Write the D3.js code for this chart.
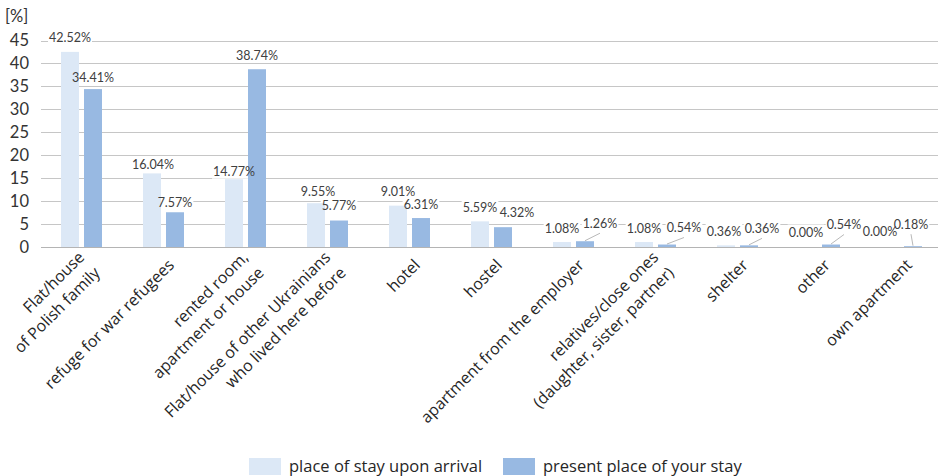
<!DOCTYPE html>
<html>
<head>
<meta charset="utf-8">
<script src="https://cdn.jsdelivr.net/npm/d3@7"></script>
<style>
    body { margin: 0; background: #fff; }
    svg { display: block; font-family: Lato, "Open Sans", sans-serif; }
    .wide { font-family: "Open Sans", Lato, sans-serif; }
</style>
</head>
<body>
<svg id="chart" width="938" height="476"></svg>
<script>
// categories, one entry per line of the axis label
var categories = [
    ["Flat/house", "of Polish family"],
    ["refuge for war refugees"],
    ["rented room,", "apartment or house"],
    ["Flat/house of other Ukrainians", "who lived here before"],
    ["hotel"],
    ["hostel"],
    ["apartment from the employer"],
    ["relatives/close ones", "(daughter, sister, partner)"],
    ["shelter"],
    ["other"],
    ["own apartment"]
];
var seriesNames = ["place of stay upon arrival", "present place of your stay"];
var arrival = [42.52, 16.04, 14.77, 9.55, 9.01, 5.59, 1.08, 1.08, 0.36, 0.00, 0.00];
var present = [34.41, 7.57, 38.74, 5.77, 6.31, 4.32, 1.26, 0.54, 0.36, 0.54, 0.18];
var yTicks = [0, 5, 10, 15, 20, 25, 30, 35, 40, 45];

// label placement tweaks (px), like the excel layout
var arrivalNudge = [[0,-2],[1,3],[0,4],[2,0],[0,-2],[0,-2],[0,-2],[0,-2],[-2,-2],[-2,-3],[-10,-4]];
var presentNudge = [[0,0],[0,2],[0,-2],[0,-3],[0,-2],[14,-3],[15,-6],[17,-5],[13,-5],[13,-8],[-2,-10]];
var leader = [false, false, false, false, false, false, true, true, true, true, true];

var colors = ["#dce8f6", "#98b9e2"];

var svg = d3.select("#chart");
var x0 = d3.scaleBand().domain(d3.range(categories.length)).range([41, 943]).padding(0);
var x1 = d3.scaleBand().domain([0, 1]).range([20, 61]).paddingInner(0.217);
var y = d3.scaleLinear().domain([0, 45]).range([247, 40.5]);

// gridlines
svg.append("g").selectAll("line")
    .data(yTicks.filter(function (t) { return t > 0; }))
    .enter().append("line")
    .attr("x1", 41).attr("x2", 938)
    .attr("y1", function (d) { return Math.round(y(d)) + 0.5; })
    .attr("y2", function (d) { return Math.round(y(d)) + 0.5; })
    .attr("stroke", "#c6c6c6").attr("stroke-width", 1);

// y tick labels
svg.append("g").selectAll("text")
    .data(yTicks)
    .enter().append("text")
    .attr("x", 29).attr("y", function (d) { return y(d); })
    .attr("dy", "0.36em")
    .attr("text-anchor", "end")
    .attr("font-size", 16.5)
    .attr("fill", "#333")
    .text(function (d) { return d; });

svg.append("text").attr("x", 5).attr("y", 22)
    .attr("font-size", 16.5).attr("fill", "#333").text("[%]");

var series = [arrival, present];
var nudges = [arrivalNudge, presentNudge];

var labelData = [];
series.forEach(function (vals, s) {
    vals.forEach(function (v, i) {
        var bx = x0(i) + x1(s) + x1.bandwidth() / 2;
        labelData.push({
            s: s, i: i, v: v, bx: bx, by: y(v),
            lx: bx + nudges[s][i][0],
            ly: y(v) - 12 + nudges[s][i][1],
            lead: s === 1 && leader[i]
        });
    });
});

var bgLayer = svg.append("g");
var barLayer = svg.append("g");
var leadLayer = svg.append("g");
var textLayer = svg.append("g");

series.forEach(function (vals, s) {
    barLayer.append("g").selectAll("rect")
        .data(vals)
        .enter().append("rect")
        .attr("x", function (d, i) { return x0(i) + x1(s); })
        .attr("width", x1.bandwidth())
        .attr("y", function (d) { return y(d); })
        .attr("height", function (d) { return y(0) - y(d); })
        .attr("fill", colors[s]);
});

// axis line
svg.append("line").attr("x1", 41).attr("x2", 938)
    .attr("y1", 247.5).attr("y2", 247.5)
    .attr("stroke", "#b4b4b4").attr("stroke-width", 1);

leadLayer.selectAll("line")
    .data(labelData.filter(function (d) { return d.lead; }))
    .enter().append("line")
    .attr("x1", function (d) { return d.lx; })
    .attr("y1", function (d) { return d.ly + 10; })
    .attr("x2", function (d) { return d.bx; })
    .attr("y2", function (d) { return d.by - 0.5; })
    .attr("stroke", "#a6a6a6").attr("stroke-width", 0.8);

var labels = textLayer.selectAll("text")
    .data(labelData)
    .enter().append("text")
    .attr("x", function (d) { return d.lx; })
    .attr("y", function (d) { return d.ly; })
    .attr("dy", "0.36em")
    .attr("text-anchor", "middle")
    .attr("font-size", 12.5)
    .attr("fill", "#404040")
    .text(function (d) { return d.v.toFixed(2) + "%"; });

labels.each(function () {
    var b = this.getBBox();
    bgLayer.append("rect")
        .attr("x", b.x - 1).attr("y", b.y)
        .attr("width", b.width + 2).attr("height", b.height)
        .attr("fill", "#fff");
});

// rotated category labels
var cat = svg.append("g").attr("class", "wide").selectAll("text")
    .data(categories)
    .enter().append("text")
    .attr("transform", function (d, i) {
        return "translate(" + (x0(i) + x0.bandwidth() / 2 + 7) + ",262) rotate(-45)";
    })
    .attr("text-anchor", "end")
    .attr("font-size", 16)
    .attr("fill", "#262626");

cat.each(function (lines) {
    var t = d3.select(this);
    lines.forEach(function (ln, k) {
        t.append("tspan")
            .attr("x", 0)
            .attr("y", (k - (lines.length - 1) / 2) * 22)
            .attr("dy", "0.36em")
            .text(ln);
    });
});

// legend
var legendX = [249, 503];
var legend = svg.append("g").attr("class", "wide").selectAll("g")
    .data(seriesNames)
    .enter().append("g")
    .attr("transform", function (d, i) { return "translate(" + legendX[i] + ",458)"; });
legend.append("rect").attr("width", 32).attr("height", 17)
    .attr("fill", function (d, i) { return colors[i]; });
legend.append("text").attr("x", 40).attr("y", 14)
    .attr("font-size", 16.5).attr("fill", "#262626")
    .text(function (d) { return d; });
</script>
</body>
</html>
